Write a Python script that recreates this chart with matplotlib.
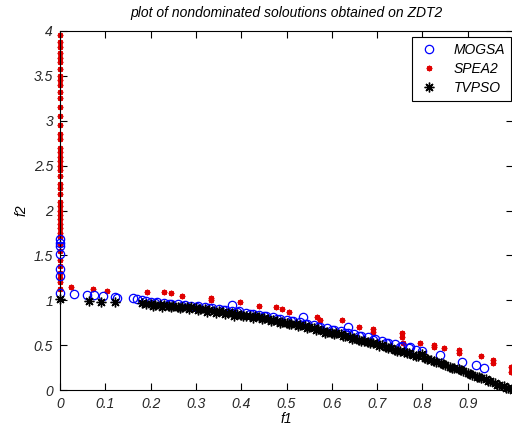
import matplotlib
matplotlib.use("Agg")
import matplotlib.pyplot as plt

# MOGSA (blue open circles)
mogsa_f1 = [0, 0, 0, 0, 0, 0, 0,
            0.031, 0.06, 0.075, 0.096, 0.121, 0.125, 0.162, 0.169, 0.18, 0.19,
            0.20, 0.215, 0.23, 0.245, 0.26, 0.275, 0.29, 0.305, 0.32, 0.335,
            0.35, 0.365, 0.38, 0.395, 0.41, 0.425, 0.44, 0.455, 0.47, 0.485,
            0.50, 0.515, 0.53, 0.545, 0.56, 0.575, 0.59, 0.605, 0.62, 0.635,
            0.65, 0.665, 0.68, 0.695, 0.71, 0.725, 0.74, 0.755, 0.77, 0.785, 0.80,
            0.379, 0.537, 0.635, 0.773, 0.839, 0.887, 0.918, 0.936,
            0.21, 0.24, 0.27, 0.30, 0.33, 0.36, 0.39, 0.42, 0.45, 0.48,
            0.51, 0.54, 0.57, 0.60, 0.63, 0.66, 0.69, 0.72, 0.75]
mogsa_f2 = [1.08, 1.27, 1.35, 1.52, 1.60, 1.64, 1.68,
            1.07, 1.06, 1.06, 1.05, 1.04, 1.03, 1.02, 1.01, 1.00, 0.99,
            0.98, 0.975, 0.97, 0.96, 0.955, 0.95, 0.94, 0.935, 0.925, 0.915,
            0.905, 0.895, 0.885, 0.875, 0.86, 0.85, 0.84, 0.825, 0.81, 0.795,
            0.78, 0.77, 0.755, 0.74, 0.72, 0.705, 0.69, 0.67, 0.655, 0.64,
            0.62, 0.60, 0.585, 0.565, 0.545, 0.525, 0.51, 0.49, 0.47, 0.45, 0.43,
            0.947, 0.817, 0.705, 0.48, 0.39, 0.315, 0.28, 0.245,
            0.965, 0.955, 0.94, 0.925, 0.91, 0.89, 0.87, 0.845, 0.82, 0.79,
            0.765, 0.735, 0.70, 0.67, 0.63, 0.60, 0.56, 0.52, 0.48]

# SPEA2 (red asterisks)
spea2_f1 = [0] * 44 + [
    0.024, 0.072, 0.104, 0.193, 0.23, 0.246, 0.269, 0.333, 0.333, 0.397,
    0.44, 0.477, 0.489, 0.506, 0.567, 0.574, 0.623, 0.659, 0.69, 0.69,
    0.754, 0.754, 0.758, 0.795, 0.826, 0.826, 0.848, 0.881, 0.881, 0.929,
    0.955, 0.955, 0.995, 0.995]
spea2_f2 = [3.95, 3.88, 3.82, 3.75, 3.70, 3.65, 3.58, 3.50, 3.45, 3.40,
            3.32, 3.25, 3.15, 3.05, 2.95, 2.85, 2.80, 2.70, 2.65, 2.60,
            2.55, 2.50, 2.45, 2.38, 2.30, 2.25, 2.18, 2.10, 2.05, 2.00,
            1.95, 1.90, 1.85, 1.80, 1.75, 1.70, 1.63, 1.55, 1.45, 1.38,
            1.30, 1.25, 1.20, 1.12,
            1.15, 1.12, 1.10, 1.095, 1.095, 1.077, 1.047, 1.03, 1.00, 0.98,
            0.936, 0.93, 0.90, 0.87, 0.81, 0.78, 0.78, 0.705, 0.68, 0.65,
            0.63, 0.59, 0.52, 0.52, 0.50, 0.475, 0.465, 0.445, 0.415, 0.38,
            0.334, 0.30, 0.26, 0.20]

# TVPSO (black asterisks)
tvpso_f1 = [0, 0.065, 0.09, 0.121,
            0.18, 0.19, 0.20, 0.21, 0.22, 0.23, 0.24, 0.25, 0.26, 0.27, 0.28, 0.29,
            0.30, 0.31, 0.32, 0.33, 0.34, 0.35, 0.36, 0.37, 0.38, 0.39,
            0.40, 0.41, 0.42, 0.43, 0.44, 0.45, 0.46, 0.47, 0.48, 0.49,
            0.50, 0.51, 0.52, 0.53, 0.54, 0.55, 0.56, 0.57, 0.58, 0.59,
            0.60, 0.61, 0.62, 0.63, 0.64, 0.65, 0.66, 0.67, 0.68, 0.69,
            0.70, 0.71, 0.72, 0.73, 0.74, 0.75, 0.76, 0.77, 0.78, 0.79,
            0.80, 0.81, 0.82, 0.83, 0.84, 0.85, 0.86, 0.87, 0.88, 0.89,
            0.90, 0.91, 0.92, 0.93, 0.94, 0.95, 0.96, 0.97, 0.98, 0.99, 1.00,
            0.205, 0.225, 0.245, 0.265, 0.285, 0.305, 0.325, 0.345, 0.365, 0.385,
            0.405, 0.425, 0.445, 0.465, 0.485, 0.505, 0.525, 0.545, 0.565, 0.585,
            0.605, 0.625, 0.645, 0.665, 0.685, 0.705, 0.725, 0.745, 0.765, 0.785,
            0.805, 0.825, 0.845, 0.865, 0.885, 0.905, 0.925, 0.945, 0.965, 0.985]
tvpso_f2 = [1.01, 0.995, 0.985, 0.985,
            0.97, 0.96, 0.96, 0.95, 0.95, 0.95, 0.94, 0.94, 0.93, 0.93, 0.92, 0.92,
            0.91, 0.90, 0.90, 0.89, 0.88, 0.88, 0.87, 0.86, 0.86, 0.85,
            0.84, 0.83, 0.82, 0.82, 0.81, 0.80, 0.79, 0.78, 0.77, 0.76,
            0.75, 0.74, 0.73, 0.72, 0.71, 0.70, 0.69, 0.68, 0.66, 0.65,
            0.64, 0.63, 0.62, 0.60, 0.59, 0.58, 0.56, 0.55, 0.54, 0.52,
            0.51, 0.50, 0.48, 0.47, 0.45, 0.44, 0.42, 0.41, 0.39, 0.38,
            0.40, 0.35, 0.33, 0.31, 0.30, 0.28, 0.26, 0.24, 0.23, 0.21,
            0.19, 0.17, 0.15, 0.13, 0.12, 0.10, 0.08, 0.06, 0.04, 0.02, 0.00,
            0.94, 0.93, 0.92, 0.91, 0.90, 0.89, 0.87, 0.86, 0.85, 0.83,
            0.82, 0.80, 0.79, 0.77, 0.75, 0.73, 0.71, 0.69, 0.67, 0.64,
            0.62, 0.60, 0.57, 0.55, 0.52, 0.49, 0.47, 0.44, 0.41, 0.38,
            0.36, 0.32, 0.29, 0.25, 0.22, 0.18, 0.14, 0.10, 0.06, 0.02]

x_ticks = [0, 0.1, 0.2, 0.3, 0.4, 0.5, 0.6, 0.7, 0.8, 0.9, 1]
x_tick_labels = ["0", "0.1", "0.2", "0.3", "0.4", "0.5", "0.6", "0.7", "0.8", "0.9", ""]
y_ticks = [0, 0.5, 1, 1.5, 2, 2.5, 3, 3.5, 4]
y_tick_labels = ["0", "0.5", "1", "1.5", "2", "2.5", "3", "3.5", "4"]

plt.rcParams["font.family"] = ["Liberation Sans", "DejaVu Sans"]
plt.rcParams["font.style"] = "italic"
plt.rcParams["font.size"] = 10

# matlab style asterisk: plus and cross overlaid
asterisk = (8, 2, 0)

fig = plt.figure(figsize=(5.12, 4.25), dpi=100)
ax = fig.add_axes([60 / 512, 35 / 425, 453 / 512, 359 / 425])

ax.plot(mogsa_f1, mogsa_f2, "o", color="#0000ff", mfc="none", ms=6, mew=0.9,
        label="MOGSA", clip_on=False, zorder=3)
ax.plot(spea2_f1, spea2_f2, ls="none", marker=asterisk, color="#e00000", ms=4, mew=1.0,
        label="SPEA2", clip_on=False, zorder=2)
ax.plot(tvpso_f1, tvpso_f2, ls="none", marker=asterisk, color="black", ms=7, mew=1.0,
        label="TVPSO", clip_on=False, zorder=5)

ax.set_xlim(0, 1)
ax.set_ylim(0, 4)
ax.set_xticks(x_ticks)
ax.set_yticks(y_ticks)
ax.set_xticklabels(x_tick_labels)
ax.set_yticklabels(y_tick_labels)
ax.tick_params(direction="in", length=5, width=0.8, top=True, right=True,
               labelcolor="#262626", pad=5)
for spine in ax.spines.values():
    spine.set_linewidth(0.8)

ax.set_title("plot of nondominated soloutions obtained on ZDT2", fontsize=10, pad=10)
ax.set_xlabel("f1", labelpad=1)
ax.set_ylabel("f2", labelpad=4)

leg = ax.legend(loc="upper right", bbox_to_anchor=(0.996, 0.983), borderaxespad=0,
                numpoints=1, fancybox=False, edgecolor="black", framealpha=1,
                handlelength=1.5, handletextpad=1.0, borderpad=0.45, labelspacing=0.35,
                fontsize=10)
leg.get_frame().set_linewidth(0.8)
leg.set_zorder(10)

fig.savefig("out.png", dpi=100)
